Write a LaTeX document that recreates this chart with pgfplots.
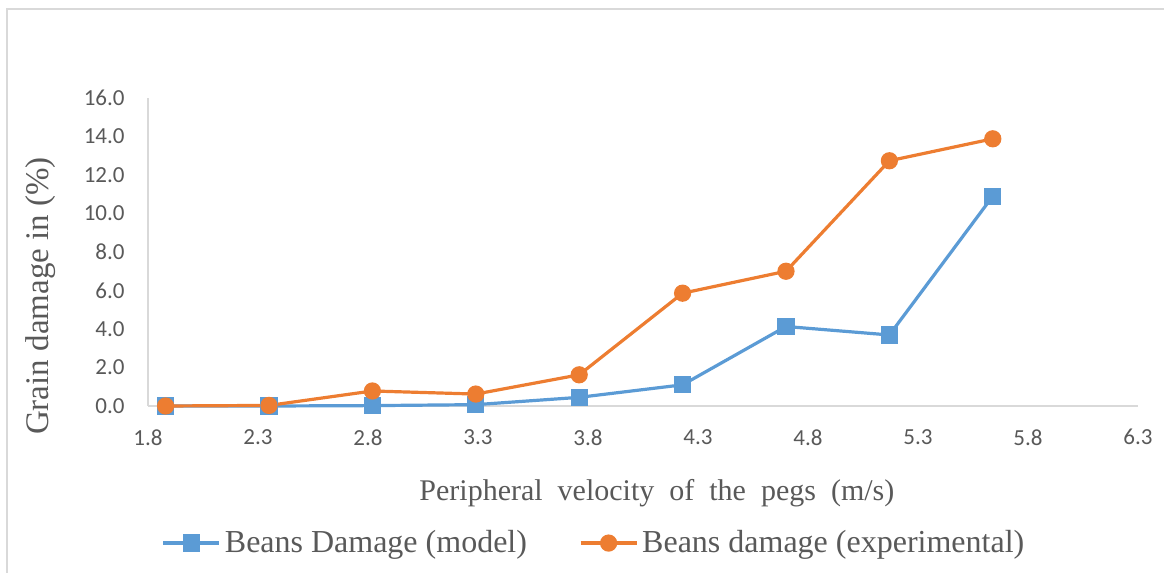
\documentclass[border=0pt]{standalone}
\usepackage{pgfplots}
\pgfplotsset{compat=1.18}
\usepackage{fontspec}
\setmainfont{Liberation Serif}
\newfontfamily\tickfont{Carlito}
\definecolor{mblue}{HTML}{5B9BD5}
\definecolor{morange}{HTML}{ED7D31}
\definecolor{axgray}{HTML}{D9D9D9}
\definecolor{txtgray}{HTML}{595959}
\begin{document}
\begin{tikzpicture}
\useasboundingbox (-74pt,-83.5pt) rectangle (508pt,203pt);
\draw[axgray, line width=0.8pt] (-70.5pt,-90pt) -- (-70.5pt,198.5pt) -- (520pt,198.5pt);
\begin{axis}[
  at={(0pt,0pt)}, anchor=south west,
  scale only axis, width=495pt, height=154pt,
  xmin=1.8, xmax=6.3, ymin=0, ymax=16,
  xtick={1.8,2.3,2.8,3.3,3.8,4.3,4.8,5.3,5.8,6.3},
  ytick={0,2,4,6,8,10,12,14,16},
  axis lines*=left,
  axis line style={axgray, line width=0.8pt},
  major tick length=0pt,
  /pgf/number format/assume math mode=true,
  xticklabel style={/pgf/number format/.cd, fixed, fixed zerofill, precision=1, /tikz/.cd, font=\tickfont\fontsize{11.5}{13}\selectfont, text=txtgray, inner sep=0pt, yshift=-11.5pt},
  yticklabel style={/pgf/number format/.cd, fixed, fixed zerofill, precision=1, /tikz/.cd, font=\tickfont\fontsize{11.5}{13}\selectfont, text=txtgray, inner sep=0pt, xshift=-11.5pt},
  xlabel={Peripheral\ \ velocity\ \ of\ \ the\ \ pegs\ \ (m/s)},
  xlabel style={at={(axis description cs:0.514,-0.282)}, anchor=center, font=\fontsize{15}{17}\selectfont, text=txtgray},
  ylabel={Grain damage in (\%)},
  ylabel style={at={(axis description cs:-0.108,0.357)}, anchor=center, font=\fontsize{16.5}{18}\selectfont, text=txtgray},
  legend columns=2,
  legend style={at={(axis description cs:0.4515,-0.445)}, anchor=center, draw=none, fill=none,
    font=\fontsize{16}{18}\selectfont, text=txtgray,
    /tikz/every even column/.append style={column sep=24pt}},
  legend image code/.code={\draw[mark repeat=2,mark phase=2] plot coordinates {(0pt,0pt)(14pt,0pt)(28pt,0pt)};},
  clip=false,
]
\addplot[color=mblue, line width=1.6pt, mark=square*, mark size=3.5pt, mark options={solid}]
  coordinates {(1.88,0) (2.35,0) (2.82,0.02) (3.29,0.07) (3.76,0.45) (4.23,1.1) (4.70,4.13) (5.17,3.69) (5.64,10.9)};
\addlegendentry{Beans Damage (model)}
\addplot[color=morange, line width=1.6pt, mark=*, mark size=3.5pt, mark options={solid}]
  coordinates {(1.88,0) (2.35,0.03) (2.82,0.78) (3.29,0.62) (3.76,1.62) (4.23,5.86) (4.70,7.0) (5.17,12.74) (5.64,13.88)};
\addlegendentry{Beans damage (experimental)}
\end{axis}
\end{tikzpicture}
\end{document}
